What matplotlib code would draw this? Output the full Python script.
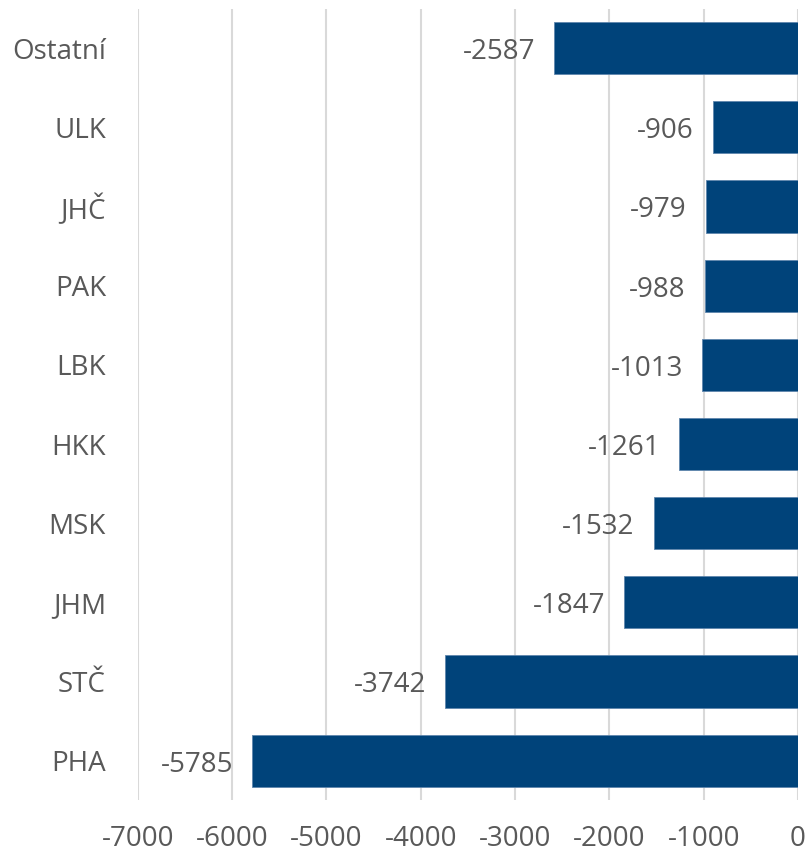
import matplotlib
matplotlib.use("Agg")
import matplotlib.pyplot as plt

categories = ["PHA", "STČ", "JHM", "MSK", "HKK", "LBK", "PAK", "JHČ", "ULK", "Ostatní"]
values = [-5785, -3742, -1847, -1532, -1261, -1013, -988, -979, -906, -2587]
xticks = [-7000, -6000, -5000, -4000, -3000, -2000, -1000, 0]

plt.rcParams['font.family'] = ['Open Sans', 'DejaVu Sans']
fig = plt.figure(figsize=(8.11, 8.55), dpi=100)
ax = fig.add_axes([0.170, 0.064, 0.814, 0.926])

bar_color = "#00437A"
text_color = "#595959"
ypos = list(range(len(categories)))
ax.barh(ypos, values, height=0.66, color=bar_color, edgecolor="#5F86AD", linewidth=0.6, zorder=3)
for y, v in zip(ypos, values):
    ax.text(v - 200, y - 0.05, f"{v}", ha="right", va="center", fontsize=20, color=text_color, zorder=4)

ax.set_xlim(-7000, 0)
ax.set_ylim(-0.5, len(categories) - 0.5)
ax.set_xticks(xticks)
ax.set_xticklabels([str(t) for t in xticks])
ax.set_yticks(ypos)
ax.set_yticklabels(categories)
ax.tick_params(axis='both', length=0, labelsize=20, colors=text_color)
ax.tick_params(axis='x', pad=18)
ax.tick_params(axis='y', pad=23)
ax.xaxis.grid(True, color="#D9D9D9", linewidth=1.5, zorder=0)
ax.set_axisbelow(True)
for s in ax.spines.values():
    s.set_visible(False)

fig.savefig("out.png", dpi=100)
